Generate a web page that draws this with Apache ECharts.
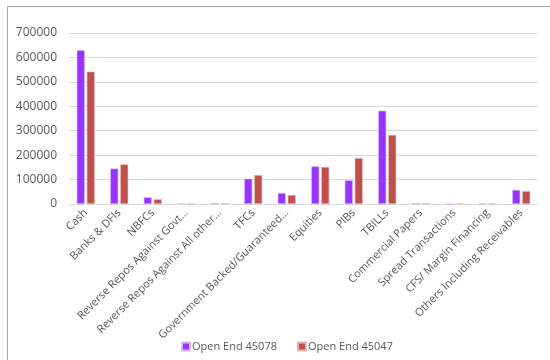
<!DOCTYPE html>
<html>
<head>
<meta charset="utf-8">
<script src="https://cdn.jsdelivr.net/npm/echarts@6/dist/echarts.min.js"></script>
<style>
  html, body { margin: 0; padding: 0; background: #fff; }
  #frame { position: absolute; left: 7px; top: 6px; width: 543px; height: 354px;
           border-left: 1px solid #a6a6a6; border-top: 1px solid #a6a6a6; }
  #chart { position: absolute; left: 0; top: 0; width: 550px; height: 360px; }
</style>
</head>
<body>
<div id="frame"></div>
<div id="chart"></div>
<script>
// Asset categories (axis labels as displayed)
const categories = [
  'Cash', 'Banks & DFIs', 'NBFCs', 'Reverse Repos Against Govt…',
  'Reverse Repos Against All other…', 'TFCs', 'Government Backed/Guaranteed…',
  'Equities', 'PIBs', 'TBILLs', 'Commercial Papers', 'Spread Transactions',
  'CFS/ Margin Financing', 'Others Including Receivables'
];

const seriesNames = ['Open End 45078', 'Open End 45047'];

const openEnd45078 = [630000, 145000, 27500, 800, 4000, 103500, 45000, 154000, 97000, 382000, 3000, 500, 2000, 57500];
const openEnd45047 = [542000, 162500, 19500, 300, 3000, 118500, 37000, 151500, 188000, 282500, 3000, 500, 500, 53000];

const yTicks = { min: 0, max: 700000, interval: 100000 };

const colors = ['#9933FF', '#C0504D'];
const textColor = '#595959';
const font = 'Open Sans';

const chart = echarts.init(document.getElementById('chart'), null, { renderer: 'canvas' });

chart.setOption({
  animation: false,
  textStyle: { fontFamily: font },
  color: colors,
  grid: { left: 69, right: 12, top: 33, bottom: 156, containLabel: false },
  legend: {
    data: seriesNames,
    bottom: 3,
    left: 176,
    itemWidth: 8,
    itemHeight: 8,
    itemGap: 20,
    icon: 'rect',
    textStyle: { color: textColor, fontSize: 11, fontFamily: font, padding: [0, 0, 0, -3] }
  },
  xAxis: {
    type: 'category',
    data: categories,
    axisLine: { lineStyle: { color: '#d9d9d9', width: 1 } },
    axisTick: { show: false },
    axisLabel: {
      interval: 0,
      rotate: 45,
      color: textColor,
      fontSize: 11,
      fontFamily: font,
      margin: 7
    }
  },
  yAxis: {
    type: 'value',
    min: yTicks.min,
    max: yTicks.max,
    interval: yTicks.interval,
    axisLine: { show: false },
    axisTick: { show: false },
    splitLine: { lineStyle: { color: '#d9d9d9', width: 1 } },
    axisLabel: {
      color: textColor, fontSize: 12, fontFamily: font, margin: 12,
      formatter: v => String(v)
    }
  },
  series: [
    {
      name: seriesNames[0],
      type: 'bar',
      data: openEnd45078,
      barWidth: 8,
      barGap: '25%',
      itemStyle: { color: colors[0], borderColor: '#d9b3ff', borderWidth: 0.6 }
    },
    {
      name: seriesNames[1],
      type: 'bar',
      data: openEnd45047,
      barWidth: 8,
      barGap: '25%',
      itemStyle: { color: colors[1], borderColor: '#e6b8b7', borderWidth: 0.6 }
    }
  ]
});
</script>
</body>
</html>
